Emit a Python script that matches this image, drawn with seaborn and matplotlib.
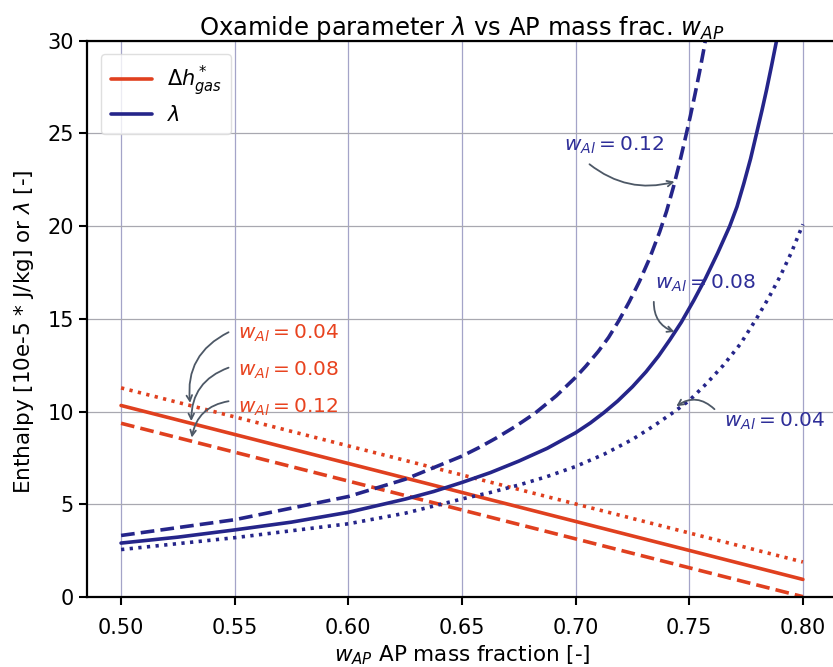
import matplotlib
matplotlib.use("Agg")
import matplotlib.pyplot as plt
import seaborn as sns

# ---- data ----
x_red = [0.50, 0.80]
dh_004 = [11.28, 1.89]
dh_008 = [10.33, 0.95]
dh_012 = [9.37, 0.02]

lam_x_004 = [0.50, 0.55, 0.60, 0.625, 0.65, 0.6625, 0.675, 0.6875, 0.70, 0.7125, 0.725, 0.7345,
             0.7435, 0.75, 0.7575, 0.765, 0.7725, 0.7795, 0.785, 0.79, 0.795, 0.80]
lam_004 = [2.56, 3.20, 3.95, 4.52, 5.29, 5.64, 6.04, 6.50, 7.04, 7.70, 8.50, 9.24,
           10.0, 10.6, 11.5, 12.5, 13.65, 15.0, 16.15, 17.3, 18.6, 20.1]

lam_x_008 = [0.50, 0.525, 0.55, 0.575, 0.60, 0.625, 0.6375, 0.65, 0.6625, 0.675, 0.6875, 0.70,
             0.7065, 0.7125, 0.7185, 0.725, 0.731, 0.7365, 0.7415, 0.7465, 0.752, 0.757, 0.7625,
             0.7678, 0.771, 0.774, 0.777, 0.7796, 0.782, 0.784, 0.7862, 0.7884, 0.7902, 0.792]
lam_008 = [2.91, 3.23, 3.62, 4.04, 4.57, 5.28, 5.69, 6.18, 6.71, 7.33, 8.02, 8.86,
           9.39, 9.95, 10.57, 11.34, 12.15, 13.0, 13.88, 14.82, 16.0, 17.15, 18.55,
           20.0, 21.05, 22.3, 23.65, 25.0, 26.25, 27.35, 28.65, 30.0, 31.3, 32.7]

lam_x_012 = [0.50, 0.55, 0.60, 0.625, 0.65, 0.6575, 0.665, 0.6735, 0.682, 0.6915, 0.70, 0.7045,
             0.71, 0.7145, 0.719, 0.7235, 0.728, 0.7325, 0.737, 0.740, 0.743, 0.7455, 0.748,
             0.7505, 0.7525, 0.7545, 0.7565, 0.759]
lam_012 = [3.32, 4.17, 5.42, 6.35, 7.60, 8.06, 8.57, 9.20, 9.90, 10.85, 11.85, 12.45,
           13.25, 14.0, 14.9, 15.9, 17.0, 18.25, 19.7, 20.8, 22.1, 23.3, 24.6,
           25.95, 27.1, 28.3, 29.6, 31.4]

x_ticks = [0.50, 0.55, 0.60, 0.65, 0.70, 0.75, 0.80]
y_ticks = [0, 5, 10, 15, 20, 25, 30]

RED = "#e0401f"
BLUE = "#25258a"
RED_TXT = "#e8431f"
BLUE_TXT = "#2e2e98"
ARROW = "#4d5866"

sns.set_style("whitegrid")
plt.rcParams["font.family"] = ["DejaVu Sans"]
plt.rcParams["mathtext.fontset"] = "dejavusans"
plt.rcParams["text.color"] = "black"
plt.rcParams["axes.labelcolor"] = "black"
plt.rcParams["xtick.color"] = "black"
plt.rcParams["ytick.color"] = "black"

fig = plt.figure(figsize=(8.33, 6.67), dpi=100)
ax = fig.add_axes([0.1044, 0.1049, 0.9004, 0.834])

lw = 2.6
dot = (0, (0.9, 1.5))
dash = (0, (3.8, 1.7))
sns.lineplot(x=x_red, y=dh_004, ax=ax, color=RED, lw=lw, linestyle=dot)
sns.lineplot(x=x_red, y=dh_008, ax=ax, color=RED, lw=lw, linestyle="-", label=r"$\Delta h^*_{gas}$")
sns.lineplot(x=x_red, y=dh_012, ax=ax, color=RED, lw=lw, linestyle=dash)

sns.lineplot(x=lam_x_004, y=lam_004, ax=ax, color=BLUE, lw=lw, linestyle=dot)
sns.lineplot(x=lam_x_008, y=lam_008, ax=ax, color=BLUE, lw=lw, linestyle="-", label=r"$\lambda$")
sns.lineplot(x=lam_x_012, y=lam_012, ax=ax, color=BLUE, lw=lw, linestyle=dash)

ax.set_xlim(0.485, 0.815)
ax.set_ylim(0, 30)
ax.set_xticks(x_ticks)
ax.set_xticklabels([f"{t:.2f}" for t in x_ticks])
ax.set_yticks(y_ticks)

ax.grid(False)
ax.xaxis.grid(True, color="#a4a4c8", lw=0.9)
ax.yaxis.grid(True, color="#a8a8b0", lw=0.9)
for s in ["left", "bottom", "top", "right"]:
    ax.spines[s].set_color("black")
    ax.spines[s].set_linewidth(1.6)
ax.tick_params(axis="both", which="major", labelsize=15, length=6, width=1.5,
               color="black", direction="out", bottom=True, left=True)
ax.tick_params(axis="x", pad=9)

ax.set_title(r"Oxamide parameter $\lambda$ vs AP mass frac. $w_{AP}$", fontsize=17.5, pad=4)
ax.set_xlabel(r"$w_{AP}$ AP mass fraction [-]", fontsize=15.5, labelpad=4)
ax.set_ylabel(r"Enthalpy [10e-5 * J/kg] or $\lambda$ [-]", fontsize=15.5)
ax.yaxis.set_label_coords(-0.068, 0.476)

leg = ax.legend(loc="upper left", fontsize=15, frameon=True, handlelength=2.0,
                borderpad=0.45, labelspacing=0.35, handletextpad=0.7,
                bbox_to_anchor=(0.005, 0.995))
leg.get_frame().set_edgecolor("#d8d8d8")

# annotations (red)
red_labels = [(0.5514, 14.23, "0.04", (0.5473, 14.28), (0.5304, 10.47)),
              (0.5514, 12.20, "0.08", (0.5473, 12.37), (0.5309, 9.49)),
              (0.5514, 10.24, "0.12", (0.5473, 10.56), (0.5311, 8.60))]
for tx, ty, lab, start, tip in red_labels:
    ax.text(tx, ty, r"$w_{Al} = $" + lab, color=RED_TXT, fontsize=14.5, ha="left", va="center")
    ax.annotate("", xy=tip, xytext=start,
                arrowprops=dict(arrowstyle="->", color=ARROW, lw=1.3,
                                connectionstyle="arc3,rad=0.35", shrinkA=0, shrinkB=0))

# annotations (blue)
blue_labels = [(0.695, 24.36, "0.12", (0.7061, 23.34), (0.7435, 22.4), 0.25),
               (0.7348, 16.94, "0.08", (0.7344, 15.92), (0.7435, 14.3), 0.35),
               (0.7651, 9.49, "0.04", (0.7611, 10.13), (0.7443, 10.29), 0.4)]
for tx, ty, lab, start, tip, rad in blue_labels:
    ax.text(tx, ty, r"$w_{Al} = $" + lab, color=BLUE_TXT, fontsize=14.5, ha="left", va="center")
    ax.annotate("", xy=tip, xytext=start,
                arrowprops=dict(arrowstyle="->", color=ARROW, lw=1.3,
                                connectionstyle=f"arc3,rad={rad}", shrinkA=0, shrinkB=0))

fig.savefig("out.png", dpi=100)
